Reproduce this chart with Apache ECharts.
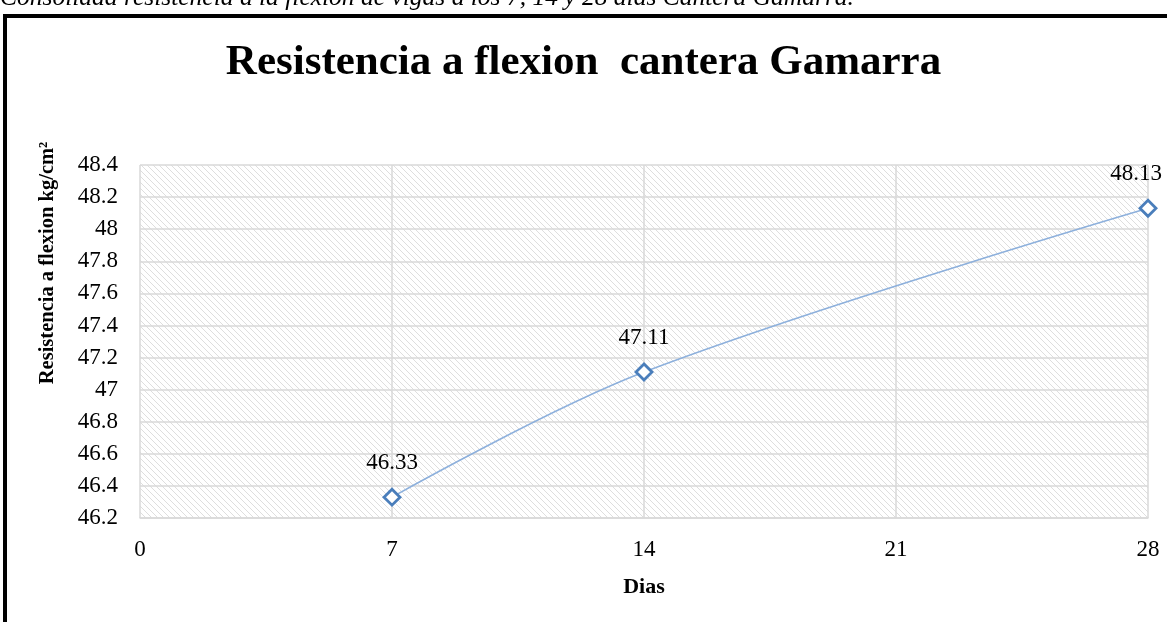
<!DOCTYPE html>
<html>
<head>
<meta charset="utf-8">
<script src="https://cdn.jsdelivr.net/npm/echarts@6/dist/echarts.min.js"></script>
<style>
html,body{margin:0;padding:0;background:#fff;}
#chart{width:1167px;height:622px;}
</style>
</head>
<body>
<div id="chart"></div>
<script>
const dias = [7, 14, 28];
const resistencia = [46.33, 47.11, 48.13];
const xTicks = [0, 7, 14, 21, 28];
const yTicks = [46.2, 46.4, 46.6, 46.8, 47, 47.2, 47.4, 47.6, 47.8, 48, 48.2, 48.4];
const titleText = 'Resistencia a flexion  cantera Gamarra';
const captionText = 'Consolidad resistencia a la flexion de vigas a los 7, 14 y 28 dias Cantera Gamarra.';
const yName = 'Resistencia a flexion kg/cm²';
const xName = 'Dias';

// hatch pattern
const pc = document.createElement('canvas');
pc.width = 6; pc.height = 6;
const pctx = pc.getContext('2d');
pctx.fillStyle = '#ffffff';
pctx.fillRect(0, 0, 6, 6);
pctx.strokeStyle = '#dedede';
pctx.lineWidth = 1;
pctx.beginPath();
pctx.moveTo(-1, -1); pctx.lineTo(7, 7);
pctx.moveTo(-1, 5); pctx.lineTo(1, 7);
pctx.moveTo(5, -1); pctx.lineTo(7, 1);
pctx.stroke();

const font = '"Liberation Serif", "Times New Roman", serif';
const chart = echarts.init(document.getElementById('chart'));
const fmt = v => String(parseFloat(Number(v).toFixed(2)));

chart.setOption({
  backgroundColor: '#ffffff',
  animation: false,
  graphic: [
    { type: 'rect', shape: { x: 5, y: 16, width: 1200, height: 700 },
      style: { fill: 'none', stroke: '#000', lineWidth: 4 }, z: 100 },
    { type: 'text', left: 0, top: -15,
      style: { text: captionText, font: 'italic 25.5px ' + font, fill: '#000' } },
    { type: 'text', x: 48, y: 263, rotation: Math.PI / 2,
      style: { text: yName, font: 'bold 20.5px ' + font, fill: '#000',
               align: 'center', verticalAlign: 'middle' } }
  ],
  title: {
    text: titleText, left: 'center', top: 36,
    textStyle: { fontFamily: font, fontWeight: 'bold', fontSize: 43, color: '#000' }
  },
  grid: {
    left: 140, right: 19, top: 165, bottom: 104,
    show: true, borderWidth: 0,
    backgroundColor: { image: pc, repeat: 'repeat' }
  },
  xAxis: {
    type: 'value', min: 0, max: 28, interval: 7,
    name: xName, nameLocation: 'middle', nameGap: 58,
    nameTextStyle: { fontFamily: font, fontWeight: 'bold', fontSize: 22, color: '#000' },
    axisLine: { show: true, lineStyle: { color: '#d9d9d9', width: 1.5 } },
    axisTick: { show: false },
    axisLabel: { fontFamily: font, fontSize: 23, color: '#000', margin: 20,
                 formatter: v => xTicks.includes(v) ? String(v) : '' },
    splitLine: { show: true, lineStyle: { color: '#d9d9d9', width: 1.5 } }
  },
  yAxis: {
    type: 'value', min: 46.2, max: 48.4, interval: 0.2,
    axisLine: { show: false },
    axisTick: { show: false },
    axisLabel: { fontFamily: font, fontSize: 23, color: '#000', margin: 22,
                 formatter: v => fmt(v) },
    splitLine: { show: true, lineStyle: { color: '#d9d9d9', width: 1.5 } }
  },
  series: [{
    type: 'line',
    data: dias.map((d, i) => {
      const item = { value: [d, resistencia[i]] };
      if (i === dias.length - 1) item.label = { offset: [-12, 0] };
      return item;
    }),
    smooth: 0.35,
    symbol: 'diamond',
    symbolSize: 16,
    lineStyle: { color: '#8db0dc', width: 1.6 },
    itemStyle: { color: '#ffffff', borderColor: '#4a7ebb', borderWidth: 2.8 },
    label: { show: true, position: 'top', distance: 13,
             fontFamily: font, fontSize: 23, color: '#000',
             formatter: p => fmt(p.value[1]) },
    z: 5
  }]
});
</script>
</body>
</html>
